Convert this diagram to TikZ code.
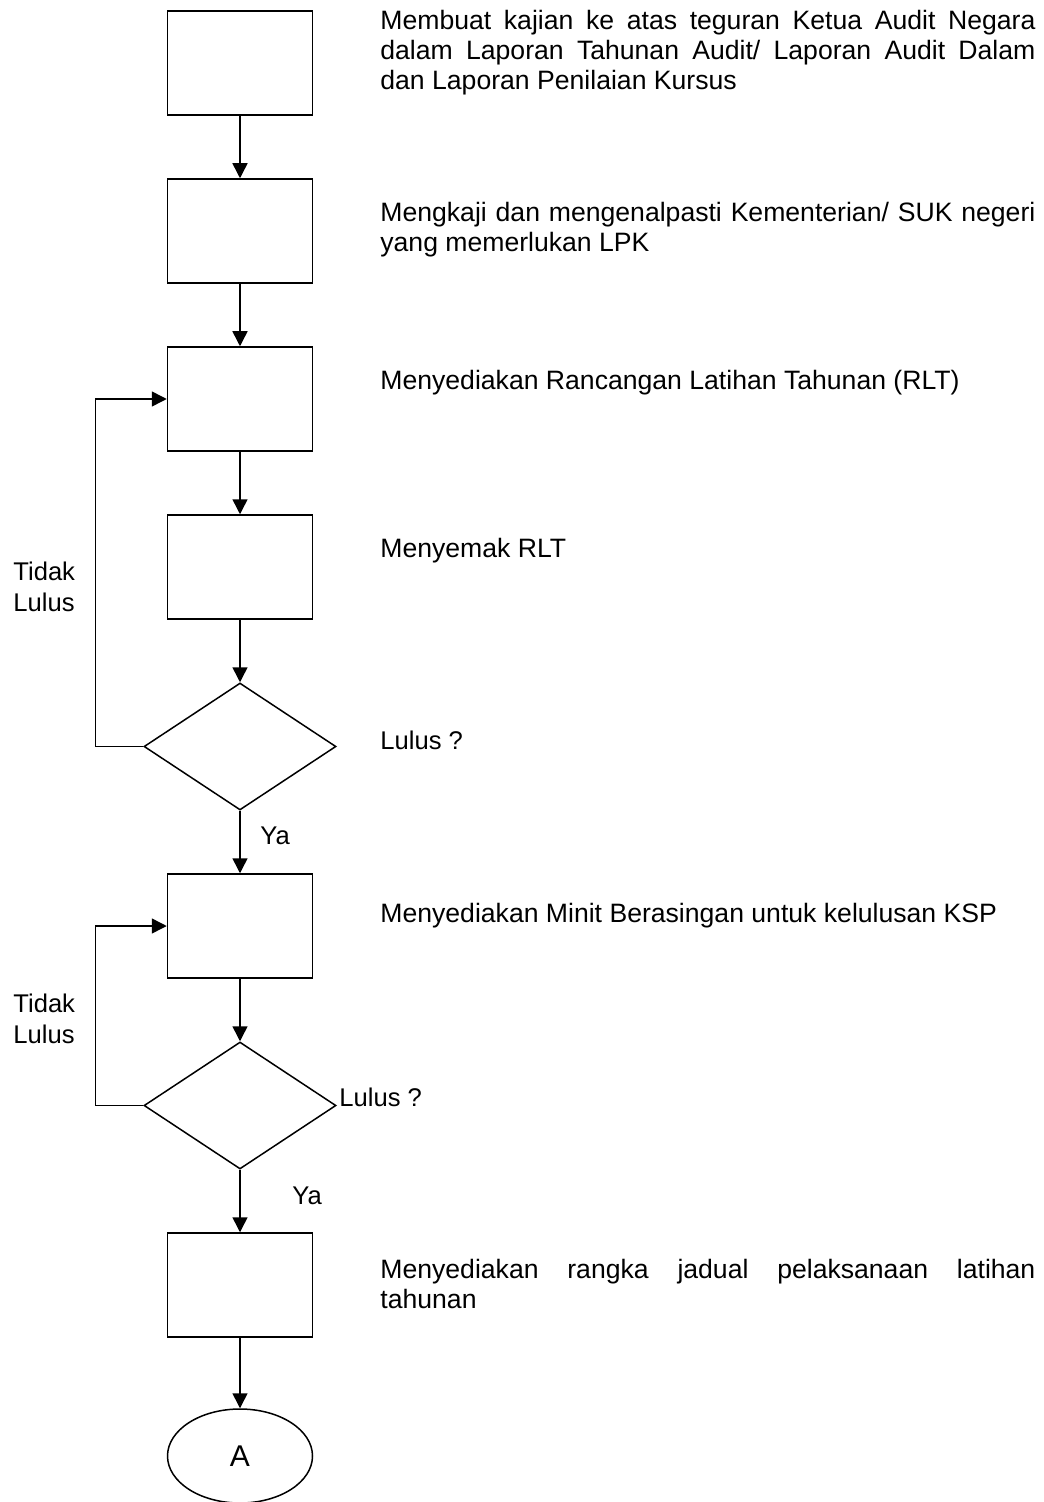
\documentclass[tikz,border=0pt]{standalone}
\usepackage{fontspec}
\setmainfont{Liberation Sans}
\usetikzlibrary{positioning,shapes.geometric,arrows.meta}
\newcommand{\descfont}{\fontsize{13.3}{15}\selectfont\hyphenpenalty=10000\relax}

\begin{document}
\begin{tikzpicture}[x=0.5pt,y=-0.5pt,node distance=31.25pt]
\tikzset{BoxStyle/.style={draw,line width=0.75pt,minimum width=72.5pt,minimum height=52pt,inner sep=0pt}}
\tikzset{DecisionStyle/.style={draw,diamond,line width=0.75pt,minimum width=96pt,minimum height=63.5pt,inner sep=0pt}}
\tikzset{EndStyle/.style={draw,ellipse,line width=0.75pt,minimum width=72.5pt,minimum height=47pt,inner sep=0pt,font=\fontsize{15}{18}\selectfont}}
\tikzset{FlowStyle/.style={line width=0.75pt,-{Triangle[length=7.5pt,width=7.5pt]}}}
\tikzset{DescStyle/.style={anchor=base west,inner sep=0pt,text width=327.5pt,align=justify,font=\descfont}}
\tikzset{LabelStyle/.style={anchor=base west,inner sep=0pt,align=left,font=\fontsize{12.8}{15.5}\selectfont}}
\useasboundingbox (0,0) rectangle (1043,1502);
% flow steps
\node[BoxStyle] (kajian) at (240,63) {};
\node[BoxStyle,below=of kajian] (kenalpasti) {};
\node[BoxStyle,below=of kenalpasti] (rancang) {};
\node[BoxStyle,below=of rancang] (semak) {};
\node[DecisionStyle,below=of semak] (lulusA) {};
\node[BoxStyle,below=of lulusA] (minit) {};
\node[DecisionStyle,below=of minit] (lulusB) {};
\node[BoxStyle,below=of lulusB] (rangka) {};
\node[EndStyle,below=35.25pt of rangka] (sambung) {A};
% descriptions
\node[DescStyle] (kajianText) at (380,29.3) {Membuat kajian ke atas teguran Ketua Audit Negara\linebreak dalam Laporan Tahunan Audit/ Laporan Audit Dalam\linebreak dan Laporan Penilaian Kursus};
\node[DescStyle] (kenalpastiText) at (380,221.7) {Mengkaji dan mengenalpasti Kementerian/ SUK negeri\linebreak yang memerlukan LPK};
\node[DescStyle] (rancangText) at (380,389.3) {Menyediakan Rancangan Latihan Tahunan (RLT)};
\node[DescStyle] (semakText) at (380,557) {Menyemak RLT};
\node[LabelStyle] (lulusAText) at (380,749) {Lulus ?};
\node[DescStyle] (minitText) at (380,922) {Menyediakan Minit Berasingan untuk kelulusan KSP};
\node[LabelStyle] (lulusBText) at (339,1106) {Lulus ?};
\node[DescStyle] (rangkaText) at (380,1278) {Menyediakan rangka jadual pelaksanaan latihan\linebreak tahunan};
% branch labels
\node[LabelStyle] (tidakA) at (13,611.7) {Tidak\\Lulus};
\node[LabelStyle] (tidakB) at (13,1043.3) {Tidak\\Lulus};
\node[LabelStyle] (yaA) at (260,844) {Ya};
\node[LabelStyle] (yaB) at (292,1204) {Ya};
% connectors
\draw[FlowStyle] (kajian) -- (kenalpasti);
\draw[FlowStyle] (kenalpasti) -- (rancang);
\draw[FlowStyle] (rancang) -- (semak);
\draw[FlowStyle] (semak) -- (lulusA);
\draw[FlowStyle] (lulusA) -- (minit);
\draw[FlowStyle] (minit) -- (lulusB);
\draw[FlowStyle] (lulusB) -- (rangka);
\draw[FlowStyle] (rangka) -- (sambung);
\draw[FlowStyle] (lulusA.west) -- ++(-48,0) |- (rancang.west);
\draw[FlowStyle] (lulusB.west) -- ++(-48,0) |- (minit.west);
\end{tikzpicture}
\end{document}
